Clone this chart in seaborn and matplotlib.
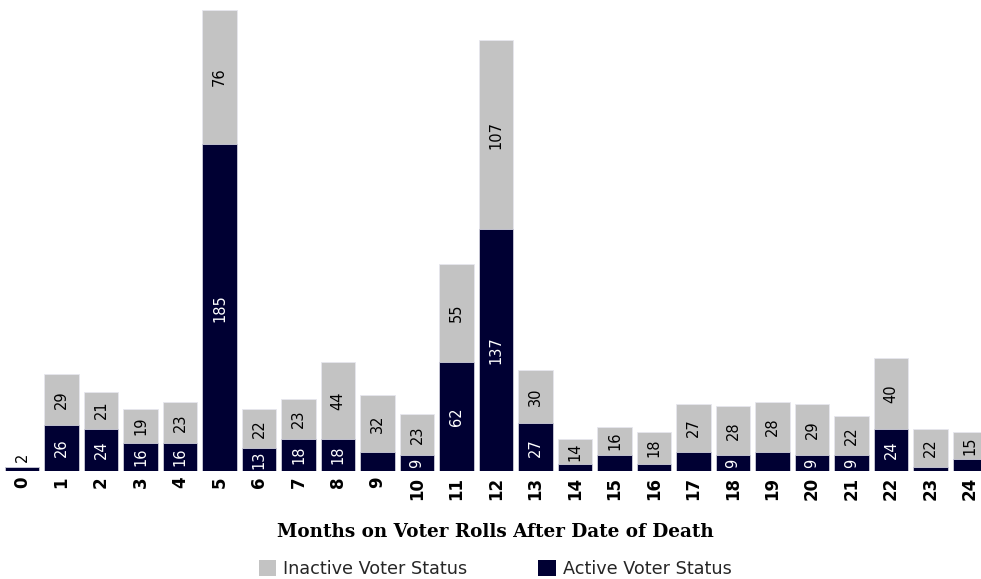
import matplotlib
matplotlib.use("Agg")
import matplotlib.pyplot as plt
import seaborn as sns
import pandas as pd
from matplotlib.patches import Patch

sns.set_theme(style="white")
plt.rcParams['font.family'] = ['DejaVu Sans']

months = [str(i) for i in range(25)]
active = [2, 26, 24, 16, 16, 185, 13, 18, 18, 11, 9, 62, 137, 27, 4, 9, 4, 11, 9, 11, 9, 9, 24, 2, 7]
inactive = [0, 29, 21, 19, 23, 76, 22, 23, 44, 32, 23, 55, 107, 30, 14, 16, 18, 27, 28, 28, 29, 22, 40, 22, 15]
active_labeled = [True, True, True, True, True, True, True, True, True, False, True, True, True, True,
                  False, False, False, False, True, False, True, True, True, False, False]
inactive_labeled = [False] + [True] * 24

NAVY = "#000033"
GRAY = "#C3C3C3"

df = pd.DataFrame({"month": months, "active": active, "inactive": inactive})
df["total"] = df["active"] + df["inactive"]

W, H = 981, 579
fig = plt.figure(figsize=(W / 100, H / 100), dpi=100)
ax = fig.add_axes([0, (H - 471) / H, 1, 471 / H])

sns.barplot(data=df, x="month", y="total", order=months, color=GRAY, width=0.88,
            saturation=1, ax=ax, edgecolor="#E6E6EE", linewidth=0.6)
sns.barplot(data=df, x="month", y="active", order=months, color=NAVY, width=0.88,
            saturation=1, ax=ax, edgecolor="#D0D0DC", linewidth=0.6)

ax.set_xlim(-22 / 39.5, 24 + 11 / 39.5)
ax.set_ylim(0, 471 / 1.766)
for s in ax.spines.values():
    s.set_visible(False)
ax.set_yticks([])
ax.set_ylabel("")
ax.set_xlabel("")
ax.tick_params(axis="x", length=0, pad=4)
for lab in ax.get_xticklabels():
    lab.set_rotation(90)
    lab.set_fontweight("bold")
    lab.set_fontsize(12)
    lab.set_color("black")

for i in range(25):
    a, n = active[i], inactive[i]
    if a > 0 and active_labeled[i]:
        if n == 0:
            ax.text(i, a + 3, str(a), rotation=90, ha="center", va="bottom",
                    color="black", fontsize=10.5)
        else:
            ax.text(i, a / 2, str(a), rotation=90, ha="center", va="center",
                    color="white", fontsize=10.5)
    if n > 0 and inactive_labeled[i]:
        ax.text(i, a + n / 2, str(n), rotation=90, ha="center", va="center",
                color="black", fontsize=10.5)

fig.text(495 / W, 1 - 532 / H, "Months on Voter Rolls After Date of Death", ha="center", va="center",
         fontsize=13.2, fontweight="bold", family="DejaVu Serif", color="black")

handles = [Patch(facecolor=GRAY, edgecolor="none", label="Inactive Voter Status"),
           Patch(facecolor=NAVY, edgecolor="none", label="Active Voter Status")]
fig.legend(handles=handles, loc="center", bbox_to_anchor=(495 / W, 1 - 569 / H), ncol=2,
           frameon=False, fontsize=12.7, handlelength=1.0, handleheight=1.0,
           handletextpad=0.4, columnspacing=4.0, borderpad=0, borderaxespad=0)

fig.savefig("out.png", dpi=100)
